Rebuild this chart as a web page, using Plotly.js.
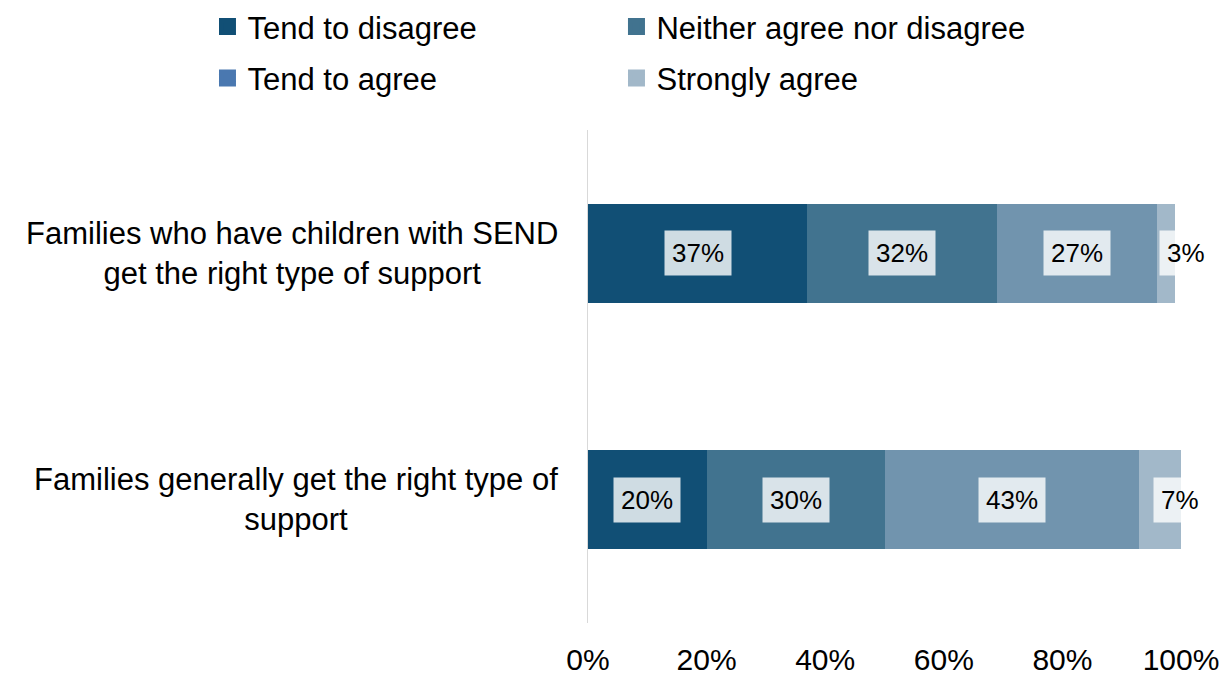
<!DOCTYPE html>
<html>
<head>
<meta charset="utf-8">
<script src="https://cdn.plot.ly/plotly-3.0.1.min.js"></script>
<style>html,body{margin:0;padding:0;background:#fff}#chart{width:1228px;height:680px}</style>
</head>
<body>
<div id="chart"></div>
<script>
// ---- data ----
const categories = [
  'Families who have children with SEND<br>get the right type of support',
  'Families generally get the right type of<br>support'
];
const seriesNames = ['Tend to disagree', 'Neither agree nor disagree', 'Tend to agree', 'Strongly agree'];
const tendToDisagree = [37, 20];
const neitherAgreeNorDisagree = [32, 30];
const tendToAgree = [27, 43];
const stronglyAgree = [3, 7];
const xTickValues = [0, 20, 40, 60, 80, 100];
const xTickLabels = ['0%', '20%', '40%', '60%', '80%', '100%'];

// ---- style ----
const barColors = ['#114f75', '#41738f', '#7194ae', '#a2b8c9'];
const legendColors = ['#114f75', '#41738f', '#4a78b0', '#a2b8c9'];
const FONT = 'Liberation Sans, Arial, sans-serif';

const seriesValues = [tendToDisagree, neitherAgreeNorDisagree, tendToAgree, stronglyAgree];

const traces = [];
seriesValues.forEach((vals, i) => {
  traces.push({
    type: 'bar', orientation: 'h',
    name: seriesNames[i],
    x: vals, y: categories,
    marker: {color: barColors[i], line: {width: 0}},
    showlegend: false,
    hoverinfo: 'name+x'
  });
});
// legend entries (swatches)
seriesNames.forEach((nm, i) => {
  traces.push({
    type: 'bar', orientation: 'h',
    name: nm, x: [null], y: [null],
    marker: {color: legendColors[i], line: {color: legendColors[i], width: 5}},
    showlegend: true,
    legend: i < 2 ? 'legend' : 'legend2',
    hoverinfo: 'skip'
  });
});

// data label annotations
const annotations = [];
categories.forEach((cat, c) => {
  let cum = 0;
  seriesValues.forEach((vals, i) => {
    const v = vals[c];
    annotations.push({
      x: cum + v / 2, y: cat, xref: 'x', yref: 'y',
      text: v + '%', showarrow: false,
      font: {family: FONT, size: 26, color: '#000'},
      bgcolor: 'rgba(255,255,255,0.8)', borderpad: 7,
      xshift: i === seriesValues.length - 1 ? 20 : 0
    });
    cum += v;
  });
  // category label
  annotations.push({
    x: 0, xref: 'paper', y: cat, yref: 'y',
    xanchor: 'right', xshift: -28, align: 'center',
    text: cat, showarrow: false,
    font: {family: FONT, size: 31, color: '#000'}
  });
});

const legendCommon = {
  orientation: 'h', xanchor: 'left', yanchor: 'middle',
  font: {family: FONT, size: 31, color: '#000'},
  entrywidthmode: 'pixels', entrywidth: 364,
  bgcolor: 'rgba(0,0,0,0)', traceorder: 'normal'
};

const layout = {
  width: 1228, height: 680,
  margin: {l: 588, r: 47, t: 130, b: 57, autoexpand: false},
  paper_bgcolor: '#fff', plot_bgcolor: '#fff',
  barmode: 'stack', bargap: 0.6,
  font: {family: FONT, size: 28, color: '#000'},
  xaxis: {
    range: [0, 100], tickvals: xTickValues, ticktext: xTickLabels,
    showgrid: false, zeroline: false, showline: false, ticks: '',
    ticklabelstandoff: 16,
    tickfont: {family: FONT, size: 30, color: '#000'}, fixedrange: true
  },
  yaxis: {
    type: 'category', categoryorder: 'array', categoryarray: categories.slice().reverse(),
    showticklabels: false, showgrid: false, zeroline: false,
    showline: true, linecolor: '#d9d9d9', linewidth: 1.5, ticks: '', fixedrange: true
  },
  legend: Object.assign({x: -0.6417, y: 1.209}, legendCommon),
  legend2: Object.assign({x: -0.6417, y: 1.105}, legendCommon),
  annotations: annotations,
  showlegend: true
};

Plotly.newPlot('chart', traces, layout, {displayModeBar: false, staticPlot: true});
</script>
</body>
</html>
